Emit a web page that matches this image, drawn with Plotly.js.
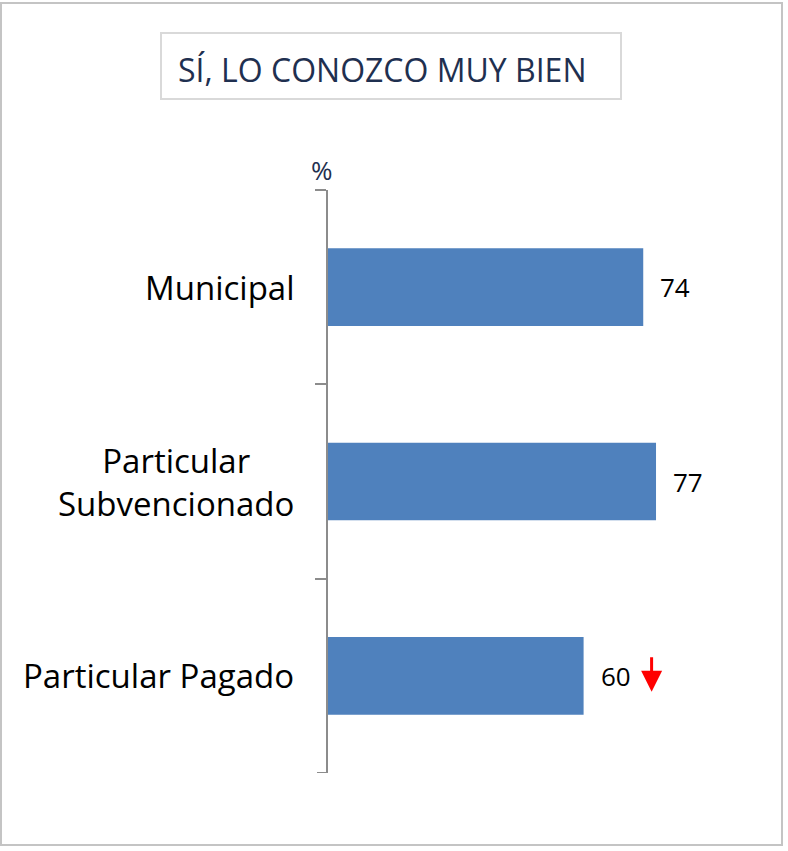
<!DOCTYPE html>
<html>
<head>
<meta charset="utf-8">
<script src="https://cdn.plot.ly/plotly-3.0.1.min.js"></script>
<style>
  html, body { margin: 0; padding: 0; background: #fff; }
  #chart { width: 788px; height: 851px; }
</style>
</head>
<body>
<div id="chart"></div>
<script>
// ---- data ----
const categories = ["Municipal", "Particular<br>Subvencionado", "Particular Pagado"];
const values = [74, 77, 60];
const trends = ["", "", "down"];
const chartTitle = "SÍ, LO CONOZCO MUY BIEN";
const unitLabel = "%";

// ---- layout geometry helpers (pixels -> paper) ----
const W = 788, H = 851;
const M = { l: 328, r: 34, t: 190, b: 78 };
const plotW = W - M.l - M.r, plotH = H - M.t - M.b;
const px = x => (x - M.l) / plotW;
const py = y => (H - M.b - y) / plotH;

const FONT = "Open Sans, Noto Sans, sans-serif";
const AXIS_COLOR = "#8c8c8c";

const trace = {
  type: "bar",
  orientation: "h",
  x: values,
  y: categories,
  marker: { color: "#4f81bd" },
  width: 0.4,
  hoverinfo: "skip"
};

const annotations = [];
values.forEach((v, i) => {
  // category label (centered multi-line, right-anchored)
  annotations.push({
    x: px(296), y: categories[i], xref: "paper", yref: "y",
    text: categories[i], showarrow: false,
    xanchor: "right", yanchor: "middle", align: "center",
    font: { family: FONT, size: 33, color: "#000" }
  });
  // data label
  annotations.push({
    x: v, y: categories[i], xref: "x", yref: "y",
    text: String(v), showarrow: false,
    xanchor: "left", yanchor: "middle", xshift: 15, yshift: 0,
    font: { family: FONT, size: 26, color: "#000" }
  });
  if (trends[i] === "down") {
    annotations.push({
      x: v, y: categories[i], xref: "x", yref: "y",
      text: "", showarrow: true,
      xshift: 68, yshift: -16,
      ax: 0, ay: -36,
      arrowcolor: "#ff0000", arrowwidth: 3, arrowhead: 2, arrowsize: 1.4
    });
  }
});
// title
annotations.push({
  x: px(382), y: py(70), xref: "paper", yref: "paper",
  text: chartTitle, showarrow: false,
  xanchor: "center", yanchor: "middle",
  font: { family: FONT, size: 32, color: "#1f3050" }
});
// unit label
annotations.push({
  x: px(322), y: py(170), xref: "paper", yref: "paper",
  text: unitLabel, showarrow: false,
  xanchor: "center", yanchor: "middle",
  font: { family: FONT, size: 26, color: "#1f3050" }
});

const shapes = [
  // outer border
  { type: "rect", xref: "paper", yref: "paper",
    x0: px(1), x1: px(782), y0: py(845), y1: py(3),
    line: { color: "#c4c4c4", width: 2 } },
  // title box
  { type: "rect", xref: "paper", yref: "paper",
    x0: px(161), x1: px(621), y0: py(99), y1: py(33),
    line: { color: "#d9d9d9", width: 2 } }
];
// end ticks of the category axis (at the outer category boundaries)
[-0.5, categories.length - 0.5].forEach(b => {
  shapes.push({ type: "line", xref: "paper", yref: "y",
    x0: px(317), x1: px(328), y0: b, y1: b,
    line: { color: AXIS_COLOR, width: 2 } });
});

const layout = {
  width: W, height: H,
  margin: M,
  paper_bgcolor: "#fff", plot_bgcolor: "#fff",
  showlegend: false,
  font: { family: FONT, color: "#000" },
  xaxis: { visible: false, range: [0, 100], fixedrange: true },
  yaxis: {
    type: "category",
    range: [2.5, -0.5],
    showline: true, linecolor: AXIS_COLOR, linewidth: 2,
    ticks: "outside", ticklen: 11, tickwidth: 2, tickcolor: AXIS_COLOR,
    tickson: "boundaries",
    showticklabels: false,
    showgrid: false, zeroline: false,
    fixedrange: true
  },
  annotations: annotations,
  shapes: shapes
};

Plotly.newPlot("chart", [trace], layout, { displayModeBar: false, staticPlot: true });
</script>
</body>
</html>
